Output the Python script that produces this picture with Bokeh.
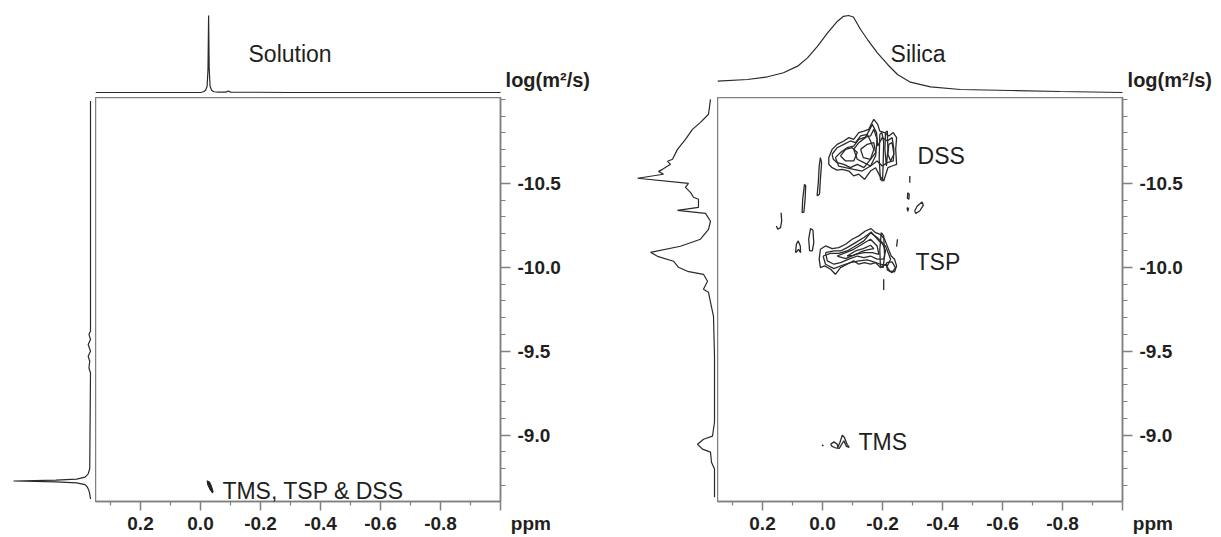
from bokeh.plotting import figure
from bokeh.layouts import row, column
from bokeh.models import Range1d, Label, FixedTicker, PrintfTickFormatter, Spacer
from bokeh.embed import file_html
from bokeh.resources import INLINE

FONT = "Liberation Sans"
INK = "#231f20"
FRAME = "#808080"
LINE = "#2a2a2a"

# ---------------- axis ticks ----------------
x_major = [0.2, 0.0, -0.2, -0.4, -0.6, -0.8, -1.0]
x_minor = [0.3, 0.1, -0.1, -0.3, -0.5, -0.7, -0.9]
y_major = [-10.5, -10.0, -9.5, -9.0]
y_minor = [-11.0, -10.9, -10.8, -10.7, -10.6, -10.4, -10.3, -10.2, -10.1,
           -9.9, -9.8, -9.7, -9.6, -9.4, -9.3, -9.2, -9.1, -8.9, -8.8, -8.7]
x_unit = "ppm"
y_unit = "log(m²/s)"

# ---------------- Solution: projections ----------------
sol_top_ppm = [0.35, 0.0, -0.010, -0.017, -0.022, -0.025, -0.027, -0.029, -0.032,
               -0.037, -0.045, -0.060, -0.085, -0.093, -0.100, -0.300, -1.0]
sol_top_int = [0.0, 0.0, 0.01, 0.03, 0.08, 0.30, 1.00, 0.30, 0.08,
               0.03, 0.01, 0.005, 0.005, 0.02, 0.005, 0.0, 0.0]

sol_side_logd = [-10.99, -9.62, -9.60, -9.57, -9.54, -9.50, -9.47, -9.44, -9.40, -9.37,
                 -8.80, -8.77, -8.75, -8.738, -8.732, -8.727, -8.722, -8.716, -8.705,
                 -8.69, -8.67, -8.65, -8.62]
sol_side_int = [0.0, 0.0, 0.02, 0.0, 0.03, 0.0, 0.03, 0.01, 0.02, 0.0,
                0.01, 0.03, 0.07, 0.18, 0.45, 1.0, 0.45, 0.18, 0.07,
                0.04, 0.02, 0.01, 0.0]

sol_blob_x = [-0.022, -0.030, -0.036, -0.042, -0.040, -0.032, -0.024, -0.022]
sol_blob_y = [-8.728, -8.722, -8.700, -8.665, -8.655, -8.675, -8.705, -8.728]

# ---------------- Silica: projections ----------------
sil_top_ppm = [0.35, 0.25, 0.183, 0.13, 0.083, 0.05, 0.017, -0.017, -0.05, -0.07,
               -0.087, -0.103, -0.127, -0.15, -0.183, -0.217, -0.25, -0.293, -0.36,
               -0.46, -0.627, -0.793, -1.0]
sil_top_int = [0.147, 0.169, 0.204, 0.256, 0.342, 0.45, 0.60, 0.775, 0.926, 0.99,
               1.0, 0.98, 0.818, 0.688, 0.515, 0.364, 0.234, 0.134, 0.074,
               0.039, 0.026, 0.013, 0.0]

sil_side_logd = [-11.0, -10.911, -10.863, -10.821, -10.762, -10.702, -10.643, -10.631,
                 -10.613, -10.583, -10.571, -10.554, -10.530, -10.5, -10.476, -10.446,
                 -10.417, -10.405, -10.357, -10.339, -10.321, -10.274, -10.226, -10.167,
                 -10.125, -10.089, -10.065, -10.036, -10.0, -9.976, -9.958, -9.917,
                 -9.869, -9.851, -9.792, -9.708, -9.470, -9.077, -8.994, -8.976,
                 -8.946, -8.917, -8.899, -8.839, -8.798, -8.631]
sil_side_int = [0.052, 0.078, 0.182, 0.286, 0.377, 0.481, 0.545, 0.610,
                0.571, 0.675, 0.727, 0.662, 1.0, 0.338, 0.377, 0.312,
                0.273, 0.208, 0.208, 0.481, 0.117, 0.052, 0.078, 0.182,
                0.442, 0.831, 0.740, 0.532, 0.468, 0.351, 0.143, 0.091,
                0.143, 0.078, 0.052, 0.013, 0.0, 0.0, 0.026, 0.143,
                0.221, 0.156, 0.052, 0.039, 0.0, 0.0]

# ---------------- Silica: contours (ppm, log D) ----------------
dss_x = [
    [-0.021, -0.032, -0.049, -0.071, -0.088, -0.104, -0.121, -0.138, -0.154, -0.171, -0.184,
     -0.191, -0.207, -0.221, -0.236, -0.247, -0.244, -0.247, -0.232, -0.218, -0.204, -0.191,
     -0.177, -0.160, -0.140, -0.121, -0.104, -0.088, -0.066, -0.049, -0.032, -0.021, -0.021],
    [-0.032, -0.049, -0.071, -0.093, -0.110, -0.127, -0.149, -0.160, -0.171, -0.160, -0.138,
     -0.116, -0.093, -0.071, -0.049, -0.036, -0.032],
    [-0.104, -0.121, -0.143, -0.166, -0.180, -0.184, -0.199, -0.216, -0.232, -0.238, -0.236,
     -0.216, -0.199, -0.182, -0.160, -0.138, -0.116, -0.104],
    [-0.060, -0.077, -0.099, -0.116, -0.104, -0.077, -0.060],
    [-0.127, -0.149, -0.171, -0.177, -0.160, -0.136, -0.127],
    [-0.191, -0.198, -0.204, -0.202, -0.200, -0.193, -0.189, -0.190, -0.191],
    [-0.221, -0.232, -0.238, -0.227, -0.218, -0.221],
    [-0.210, -0.216, -0.218, -0.213, -0.208, -0.210],
    [-0.043, -0.060, -0.082, -0.104, -0.121, -0.138, -0.160, -0.171, -0.182, -0.177, -0.160,
     -0.132, -0.104, -0.077, -0.054, -0.043],
]
dss_y = [
    [-10.653, -10.702, -10.732, -10.752, -10.772, -10.762, -10.802, -10.811, -10.821, -10.881,
     -10.851, -10.811, -10.802, -10.782, -10.802, -10.772, -10.702, -10.613, -10.603, -10.593,
     -10.514, -10.544, -10.593, -10.573, -10.524, -10.554, -10.544, -10.573, -10.583, -10.579,
     -10.593, -10.613, -10.653],
    [-10.673, -10.712, -10.732, -10.752, -10.742, -10.782, -10.792, -10.752, -10.702, -10.643,
     -10.593, -10.613, -10.593, -10.613, -10.623, -10.643, -10.673],
    [-10.702, -10.742, -10.772, -10.851, -10.802, -10.722, -10.772, -10.752, -10.772, -10.702,
     -10.633, -10.623, -10.603, -10.633, -10.603, -10.623, -10.643, -10.702],
    [-10.663, -10.702, -10.712, -10.683, -10.633, -10.633, -10.663],
    [-10.702, -10.732, -10.742, -10.683, -10.643, -10.653, -10.702],
    [-10.792, -10.802, -10.742, -10.603, -10.514, -10.524, -10.643, -10.722, -10.792],
    [-10.732, -10.742, -10.673, -10.633, -10.673, -10.732],
    [-10.802, -10.811, -10.702, -10.603, -10.702, -10.802],
    [-10.653, -10.683, -10.712, -10.722, -10.762, -10.772, -10.782, -10.821, -10.762, -10.663,
     -10.603, -10.573, -10.583, -10.593, -10.603, -10.653],
]

tsp_x = [
    [0.007, -0.010, -0.032, -0.054, -0.077, -0.099, -0.121, -0.143, -0.162, -0.177, -0.193,
     -0.207, -0.218, -0.229, -0.240, -0.247, -0.240, -0.224, -0.210, -0.193, -0.177, -0.160,
     -0.140, -0.121, -0.104, -0.082, -0.060, -0.043, -0.027, -0.007, 0.007, 0.011, 0.007],
    [-0.010, -0.038, -0.060, -0.082, -0.110, -0.138, -0.160, -0.182, -0.199, -0.210, -0.204,
     -0.182, -0.160, -0.138, -0.116, -0.088, -0.060, -0.038, -0.016, -0.010],
    [-0.049, -0.077, -0.104, -0.132, -0.160, -0.182, -0.188, -0.166, -0.138, -0.110, -0.077,
     -0.049],
    [-0.082, -0.110, -0.136, -0.160, -0.171, -0.149, -0.127, -0.104, -0.082],
    [-0.196, -0.204, -0.207, -0.202, -0.193, -0.191, -0.196],
    [-0.213, -0.232, -0.243, -0.232, -0.216, -0.213],
    [-0.002, -0.027, -0.054, -0.082, -0.110, -0.138, -0.162, -0.188, -0.210, -0.227, -0.216,
     -0.193, -0.171, -0.149, -0.121, -0.093, -0.066, -0.038, -0.010, -0.002],
]
tsp_y = [
    [-10.107, -10.127, -10.111, -10.117, -10.137, -10.167, -10.187, -10.216, -10.230, -10.206,
     -10.196, -10.167, -10.117, -10.067, -10.048, -10.008, -9.972, -9.978, -10.018, -9.998,
     -10.028, -10.018, -10.028, -10.018, -10.038, -10.018, -9.998, -9.958, -9.988, -10.008,
     -9.998, -10.048, -10.107],
    [-10.087, -10.097, -10.097, -10.117, -10.147, -10.177, -10.206, -10.177, -10.147, -10.097,
     -10.048, -10.048, -10.067, -10.058, -10.067, -10.048, -10.028, -10.018, -10.038, -10.087],
    [-10.067, -10.087, -10.107, -10.137, -10.167, -10.127, -10.077, -10.087, -10.087, -10.077,
     -10.052, -10.067],
    [-10.067, -10.097, -10.111, -10.131, -10.111, -10.103, -10.091, -10.071, -10.067],
    [-10.206, -10.187, -10.067, -9.998, -10.008, -10.107, -10.206],
    [-10.028, -10.032, -9.998, -9.968, -9.984, -10.028],
    [-10.067, -10.083, -10.083, -10.097, -10.127, -10.157, -10.210, -10.157, -10.127, -10.048,
     -10.008, -10.018, -10.032, -10.044, -10.038, -10.028, -10.012, -9.992, -10.018, -10.067],
]

stray_x = [
    [0.018, 0.014, 0.011, 0.007, 0.003, 0.007, 0.010, 0.018],
    [0.068, 0.066, 0.060, 0.056, 0.058, 0.062, 0.068],
    [0.138, 0.136, 0.140, 0.149, 0.154],
    [-0.291, -0.291],
    [-0.284, -0.289, -0.288, -0.283, -0.284],
    [-0.282, -0.287, -0.284, -0.282],
    [-0.307, -0.316, -0.332, -0.336, -0.324, -0.311, -0.307],
    [0.090, 0.087, 0.081, 0.074, 0.073, 0.080, 0.084, 0.090],
    [0.043, 0.046, 0.040, 0.032, 0.029, 0.034, 0.043],
    [-0.250, -0.247],
    [-0.204, -0.204],
]
stray_y = [
    [-10.425, -10.504, -10.603, -10.653, -10.623, -10.524, -10.435, -10.425],
    [-10.325, -10.405, -10.494, -10.484, -10.405, -10.329, -10.325],
    [-10.325, -10.276, -10.236, -10.226, -10.246],
    [-10.544, -10.504],
    [-10.444, -10.435, -10.405, -10.411, -10.444],
    [-10.355, -10.349, -10.333, -10.355],
    [-10.335, -10.365, -10.389, -10.369, -10.335, -10.321, -10.335],
    [-10.087, -10.137, -10.157, -10.127, -10.087, -10.107, -10.097, -10.087],
    [-10.097, -10.167, -10.230, -10.222, -10.147, -10.097, -10.097],
    [-10.167, -10.123],
    [-9.929, -9.865],
]

tms_x = [
    [-0.027, -0.038, -0.049, -0.051, -0.058, -0.066, -0.073, -0.082, -0.089, -0.080, -0.071,
     -0.064, -0.056, -0.043, -0.032, -0.027],
    [0.001, -0.002, -0.001, 0.001],
]
tms_y = [
    [-8.946, -8.960, -8.946, -8.927, -8.956, -9.000, -8.986, -8.946, -8.927, -8.933, -8.966,
     -8.946, -8.921, -8.925, -8.933, -8.946],
    [-8.942, -8.940, -8.936, -8.942],
]

X_RANGE = (0.35, -1.0)
Y_RANGE = (-8.605, -11.011)
TOP_RANGE = (-0.065, 1.195)
PAD = "\u2003\u2003\u2003\u2009"


def style_main(p):
    p.grid.visible = False
    p.outline_line_color = FRAME
    p.outline_line_width = 1.5
    for ax in (p.xaxis[0], p.yaxis[0]):
        ax.axis_line_color = FRAME
        ax.axis_line_width = 1.5
        ax.major_tick_line_color = FRAME
        ax.minor_tick_line_color = FRAME
        ax.major_tick_line_width = 1.5
        ax.minor_tick_line_width = 1.2
        ax.major_tick_in = 0
        ax.minor_tick_in = 0
        ax.major_label_text_font = FONT
        ax.major_label_text_font_style = "bold"
        ax.major_label_text_font_size = "19px"
        ax.major_label_text_color = INK
        ax.formatter = PrintfTickFormatter(format="%.1f")
    p.xaxis[0].ticker = FixedTicker(ticks=x_major, minor_ticks=x_minor)
    p.yaxis[0].ticker = FixedTicker(ticks=y_major, minor_ticks=y_minor)
    p.xaxis[0].major_label_overrides = {-1.0: PAD + x_unit, "-1": PAD + x_unit, "-1.0": PAD + x_unit}
    p.xaxis[0].major_tick_out = 9
    p.xaxis[0].minor_tick_out = 4
    p.xaxis[0].major_label_standoff = 2
    p.yaxis[0].major_tick_out = 10
    p.yaxis[0].minor_tick_out = 5
    p.yaxis[0].major_label_standoff = 7


def make_main(width, right):
    p = figure(width=width, height=439, x_range=Range1d(*X_RANGE), y_range=Range1d(*Y_RANGE),
               y_axis_location="right", toolbar_location=None, output_backend="svg",
               min_border_left=0, min_border_top=0, min_border_bottom=34, min_border_right=right)
    style_main(p)
    return p


def make_plain(width, height, xr, yr, bottom=0):
    p = figure(width=width, height=height, x_range=xr, y_range=yr,
               x_axis_location=None, y_axis_location=None, toolbar_location=None,
               output_backend="svg", min_border_left=0, min_border_right=0,
               min_border_top=0, min_border_bottom=bottom)
    p.grid.visible = False
    p.outline_line_color = None
    return p


def big_label(p, x, y, text):
    p.add_layout(Label(x=x, y=y, text=text, text_align="left", text_baseline="middle",
                       text_font=FONT, text_font_size="23px", text_color=INK))


def unit_label(p, x):
    p.add_layout(Label(x=x, y=0.156, text=y_unit, text_align="left", text_baseline="middle",
                       text_font=FONT, text_font_style="bold", text_font_size="20px",
                       text_color=INK))


# ---------------- Solution panel ----------------
mainL = make_main(525, 120)
mainL.patch(sol_blob_x, sol_blob_y, fill_color="#222222", line_color="#222222", line_width=1)
big_label(mainL, -0.073, -8.67, "TMS, TSP & DSS")

topL = make_plain(525, 97, Range1d(0.35, 0.35 - 525 / 300), Range1d(*TOP_RANGE))
topL.line(sol_top_ppm, sol_top_int, line_color=LINE, line_width=1.2)
big_label(topL, -0.16, 0.506, "Solution")
unit_label(topL, -1.017)

sideL = make_plain(95, 439, Range1d(90 / 77, -5 / 77), mainL.y_range, bottom=34)
sideL.line(sol_side_int, sol_side_logd, line_color=LINE, line_width=1.2)

# ---------------- Silica panel ----------------
mainR = make_main(503, 98)
for xs, ys in ((dss_x, dss_y), (tsp_x, tsp_y), (stray_x, stray_y), (tms_x, tms_y)):
    mainR.multi_line(xs, ys, line_color=LINE, line_width=1.3)
big_label(mainR, -0.317, -10.661, "DSS")
big_label(mainR, -0.31, -10.03, "TSP")
big_label(mainR, -0.12, -8.958, "TMS")

topR = make_plain(503, 97, Range1d(0.35, 0.35 - 503 / 300), Range1d(*TOP_RANGE))
topR.line(sil_top_ppm, sil_top_int, line_color=LINE, line_width=1.2)
big_label(topR, -0.227, 0.506, "Silica")
unit_label(topR, -1.017)

sideR = make_plain(97, 439, Range1d(94 / 77, -3 / 77), mainR.y_range, bottom=34)
sideR.line(sil_side_int, sil_side_logd, line_color=LINE, line_width=1.2)

layout = column(
    row(Spacer(width=95, height=97), topL, Spacer(width=97, height=97), topR),
    row(sideL, mainL, sideR, mainR),
)

open("out.html", "w").write(file_html(layout, INLINE))
